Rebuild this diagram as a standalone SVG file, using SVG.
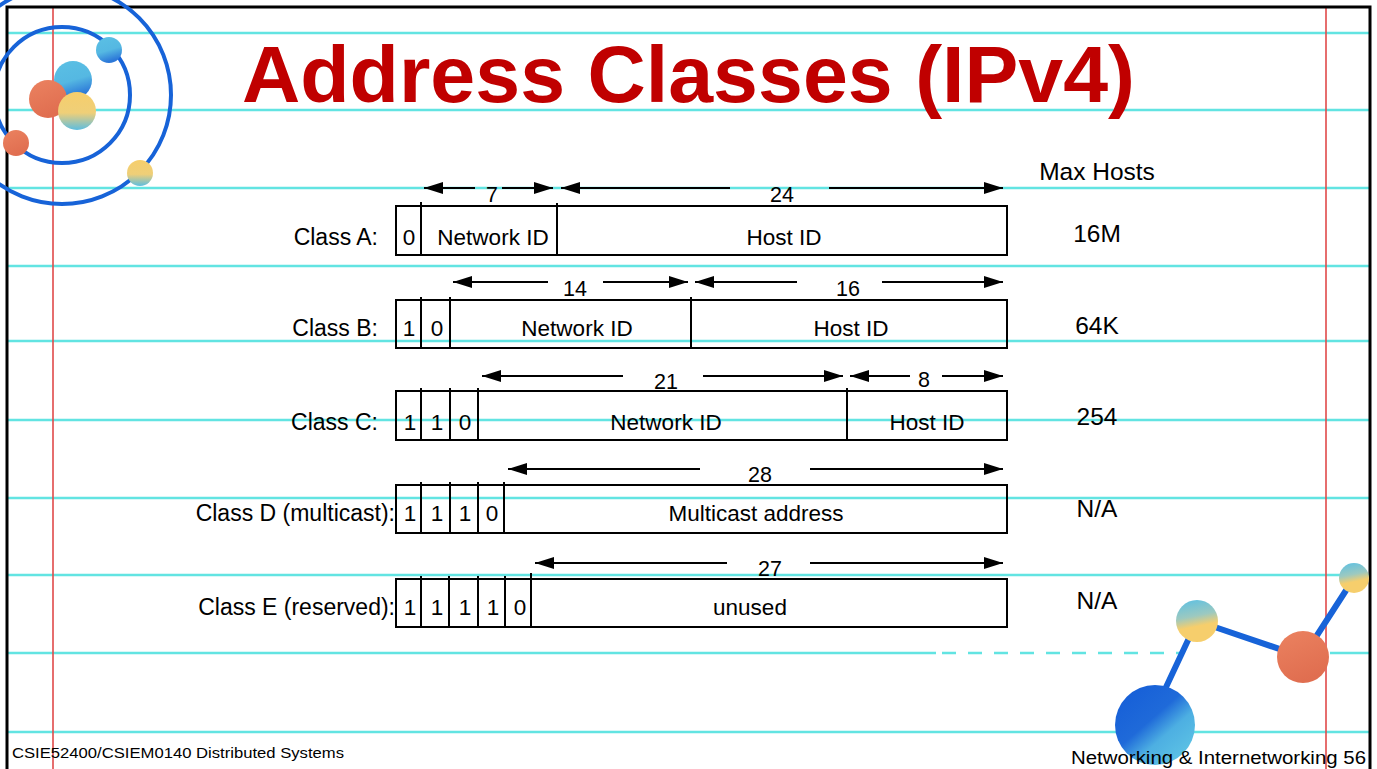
<svg xmlns="http://www.w3.org/2000/svg" width="1377" height="769" viewBox="0 0 1377 769">
  <defs>
    <style>
      .rule { stroke: #62E4E2; stroke-width: 2.6; }
      .margin { stroke: #E04A4A; stroke-width: 1.6; }
      .box { fill: none; stroke: #000; stroke-width: 2; }
      .div { stroke: #000; stroke-width: 2; }
      .arr { stroke: #000; stroke-width: 2; fill: none; }
      .lbl { font-family: "Liberation Sans", Arial, sans-serif; font-size: 22.5px; fill: #000; }
      .cls { font-size: 23px; }
      .mid { text-anchor: middle; }
      .end { text-anchor: end; }
      .num { font-family: "Liberation Sans", Arial, sans-serif; font-size: 21.5px; fill: #000; text-anchor: middle; }
      .host { font-family: "Liberation Sans", Arial, sans-serif; font-size: 24.5px; fill: #000; text-anchor: middle; }
      .orbit { fill: none; stroke: #1763D8; stroke-width: 4; }
      .link { stroke: #1763D8; stroke-width: 6; stroke-linecap: round; }
    </style>
    <marker id="head" viewBox="0 0 19 12" markerWidth="19" markerHeight="12" refX="19" refY="6" orient="auto-start-reverse" markerUnits="userSpaceOnUse">
      <path d="M0,0 L19,6 L0,12 z" fill="#000"/>
    </marker>
    <linearGradient id="gBlue" x1="0" y1="0" x2="0.3" y2="1">
      <stop offset="0" stop-color="#5BC0E4"/>
      <stop offset="0.6" stop-color="#55B8E2"/>
      <stop offset="1" stop-color="#2C78D8"/>
    </linearGradient>
    <linearGradient id="gYellowBlue" x1="0" y1="0" x2="0" y2="1">
      <stop offset="0" stop-color="#F6CE6C"/>
      <stop offset="0.55" stop-color="#EFCF78"/>
      <stop offset="1" stop-color="#5DBDE0"/>
    </linearGradient>
    <linearGradient id="gBlueYellow" x1="0" y1="0" x2="0.2" y2="1">
      <stop offset="0" stop-color="#5BC0E4"/>
      <stop offset="0.45" stop-color="#9CC9C0"/>
      <stop offset="0.7" stop-color="#F6CE6C"/>
      <stop offset="1" stop-color="#F6CE6C"/>
    </linearGradient>
    <linearGradient id="gBig" x1="0.1" y1="0.1" x2="0.8" y2="0.9">
      <stop offset="0" stop-color="#165FD8"/>
      <stop offset="0.45" stop-color="#1F6AD9"/>
      <stop offset="0.7" stop-color="#4DAFE2"/>
      <stop offset="1" stop-color="#5BC0E4"/>
    </linearGradient>
    <linearGradient id="gOrange" x1="0" y1="0" x2="0.4" y2="1">
      <stop offset="0" stop-color="#EB8260"/>
      <stop offset="1" stop-color="#E06E50"/>
    </linearGradient>
  </defs>

  <!-- page -->
  <rect x="0" y="0" width="1377" height="769" fill="#FFFFFF"/>

  <!-- ruled notebook lines -->
  <g id="ruling">
    <line class="rule" x1="8" y1="33" x2="1369" y2="33"/>
    <line class="rule" x1="8" y1="110" x2="1369" y2="110"/>
    <line class="rule" x1="8" y1="188" x2="1369" y2="188"/>
    <line class="rule" x1="8" y1="266" x2="1369" y2="266"/>
    <line class="rule" x1="8" y1="341" x2="1369" y2="341"/>
    <line class="rule" x1="8" y1="420" x2="1369" y2="420"/>
    <line class="rule" x1="8" y1="498" x2="1369" y2="498"/>
    <line class="rule" x1="8" y1="575" x2="1369" y2="575"/>
    <line class="rule" x1="8" y1="653" x2="936" y2="653"/>
    <line class="rule" x1="942" y1="653" x2="1180" y2="653" stroke-dasharray="14 12"/>
    <line class="rule" x1="1330" y1="653" x2="1369" y2="653"/>
    <line class="rule" x1="8" y1="732" x2="1369" y2="732"/>
    <line class="margin" x1="53" y1="8" x2="53" y2="769"/>
    <line class="margin" x1="1326" y1="8" x2="1326" y2="769"/>
  </g>

  <!-- frame -->
  <path d="M7,769 V7 H1370 V769" fill="none" stroke="#000" stroke-width="3"/>

  <!-- orbit decoration, top left -->
  <g id="orbit-art">
    <circle class="orbit" cx="62" cy="95" r="68"/>
    <circle class="orbit" cx="62" cy="95" r="109"/>
    <circle cx="109" cy="50" r="13" fill="url(#gBlue)"/>
    <circle cx="73" cy="80" r="19" fill="url(#gBlue)"/>
    <circle cx="48" cy="99" r="19" fill="url(#gOrange)"/>
    <circle cx="77" cy="111" r="19" fill="url(#gYellowBlue)"/>
    <circle cx="16" cy="143" r="13" fill="url(#gOrange)"/>
    <circle cx="140" cy="173" r="13" fill="url(#gYellowBlue)"/>
  </g>

  <!-- title -->
  <text id="title" x="242" y="102" font-family="'Liberation Sans', Arial, sans-serif" font-size="80" font-weight="bold" fill="#C00000" textLength="893" lengthAdjust="spacingAndGlyphs">Address Classes (IPv4)</text>

  <!-- column heading -->
  <text class="host" x="1097" y="180">Max Hosts</text>

  <!-- Class A -->
  <g id="class-a">
    <text class="lbl cls end" x="378" y="245">Class A:</text>
    <rect class="box" x="396" y="206" width="611" height="49"/>
    <line class="div" x1="421" y1="202" x2="421" y2="255"/>
    <line class="div" x1="557" y1="203" x2="557" y2="255"/>
    <text class="lbl mid" x="409" y="245">0</text>
    <text class="lbl mid" x="493" y="245">Network ID</text>
    <text class="lbl mid" x="784" y="245">Host ID</text>
    <text class="host" x="1097" y="242">16M</text>
  </g>

  <!-- Class B -->
  <g id="class-b">
    <text class="lbl cls end" x="378" y="336">Class B:</text>
    <rect class="box" x="396" y="300" width="611" height="48"/>
    <line class="div" x1="421" y1="297" x2="421" y2="348"/>
    <line class="div" x1="450" y1="297" x2="450" y2="348"/>
    <line class="div" x1="691" y1="297" x2="691" y2="348"/>
    <text class="lbl mid" x="409" y="336">1</text>
    <text class="lbl mid" x="437" y="336">0</text>
    <text class="lbl mid" x="577" y="336">Network ID</text>
    <text class="lbl mid" x="851" y="336">Host ID</text>
    <text class="host" x="1097" y="334">64K</text>
  </g>

  <!-- Class C -->
  <g id="class-c">
    <text class="lbl cls end" x="378" y="430">Class C:</text>
    <rect class="box" x="396" y="391" width="611" height="49"/>
    <line class="div" x1="421" y1="388" x2="421" y2="440"/>
    <line class="div" x1="450" y1="388" x2="450" y2="440"/>
    <line class="div" x1="478" y1="388" x2="478" y2="440"/>
    <line class="div" x1="847" y1="388" x2="847" y2="440"/>
    <text class="lbl mid" x="410" y="430">1</text>
    <text class="lbl mid" x="437" y="430">1</text>
    <text class="lbl mid" x="465" y="430">0</text>
    <text class="lbl mid" x="666" y="430">Network ID</text>
    <text class="lbl mid" x="927" y="430">Host ID</text>
    <text class="host" x="1097" y="425">254</text>
  </g>

  <!-- Class D -->
  <g id="class-d">
    <text class="lbl cls end" x="395" y="521">Class D (multicast):</text>
    <rect class="box" x="396" y="485" width="611" height="48"/>
    <line class="div" x1="421" y1="482" x2="421" y2="533"/>
    <line class="div" x1="450" y1="482" x2="450" y2="533"/>
    <line class="div" x1="478" y1="482" x2="478" y2="533"/>
    <line class="div" x1="504" y1="482" x2="504" y2="533"/>
    <text class="lbl mid" x="410" y="521">1</text>
    <text class="lbl mid" x="437" y="521">1</text>
    <text class="lbl mid" x="465" y="521">1</text>
    <text class="lbl mid" x="492" y="521">0</text>
    <text class="lbl mid" x="756" y="521">Multicast address</text>
    <text class="host" x="1097" y="517">N/A</text>
  </g>

  <!-- Class E -->
  <g id="class-e">
    <text class="lbl cls end" x="395" y="615">Class E (reserved):</text>
    <rect class="box" x="396" y="579" width="611" height="48"/>
    <line class="div" x1="421" y1="576" x2="421" y2="627"/>
    <line class="div" x1="449" y1="576" x2="449" y2="627"/>
    <line class="div" x1="478" y1="576" x2="478" y2="627"/>
    <line class="div" x1="505" y1="576" x2="505" y2="627"/>
    <line class="div" x1="531" y1="573" x2="531" y2="627"/>
    <text class="lbl mid" x="410" y="615">1</text>
    <text class="lbl mid" x="437" y="615">1</text>
    <text class="lbl mid" x="465" y="615">1</text>
    <text class="lbl mid" x="493" y="615">1</text>
    <text class="lbl mid" x="520" y="615">0</text>
    <text class="lbl mid" x="750" y="615">unused</text>
    <text class="host" x="1097" y="609">N/A</text>
  </g>

  <!-- field-width dimension arrows -->
  <g id="connectors">
    <path class="arr" d="M424,188 H475" marker-start="url(#head)"/>
    <path class="arr" d="M502,188 H553" marker-end="url(#head)"/>
    <path class="arr" d="M561,188 H730" marker-start="url(#head)"/>
    <path class="arr" d="M829,188 H1003" marker-end="url(#head)"/>

    <path class="arr" d="M453,282 H548" marker-start="url(#head)"/>
    <path class="arr" d="M603,282 H688" marker-end="url(#head)"/>
    <path class="arr" d="M695,282 H797" marker-start="url(#head)"/>
    <path class="arr" d="M882,282 H1003" marker-end="url(#head)"/>

    <path class="arr" d="M482,376 H623" marker-start="url(#head)"/>
    <path class="arr" d="M703,376 H843" marker-end="url(#head)"/>
    <path class="arr" d="M850,376 H910" marker-start="url(#head)"/>
    <path class="arr" d="M942,376 H1003" marker-end="url(#head)"/>

    <path class="arr" d="M508,469 H700" marker-start="url(#head)"/>
    <path class="arr" d="M810,469 H1003" marker-end="url(#head)"/>

    <path class="arr" d="M535,563 H727" marker-start="url(#head)"/>
    <path class="arr" d="M810,563 H1003" marker-end="url(#head)"/>
  </g>

  <!-- width labels -->
  <g id="widths">
    <text class="num" x="492" y="202">7</text>
    <text class="num" x="782" y="202">24</text>
    <text class="num" x="575" y="296">14</text>
    <text class="num" x="848" y="296">16</text>
    <text class="num" x="666" y="389">21</text>
    <text class="num" x="924" y="387">8</text>
    <text class="num" x="760" y="482">28</text>
    <text class="num" x="770" y="576">27</text>
  </g>

  <!-- molecule decoration, bottom right -->
  <g id="molecule-art">
    <line class="link" x1="1160" y1="700" x2="1197" y2="621"/>
    <line class="link" x1="1197" y1="621" x2="1303" y2="657"/>
    <line class="link" x1="1303" y1="657" x2="1354" y2="578"/>
    <circle cx="1155" cy="725" r="40" fill="url(#gBig)"/>
    <circle cx="1197" cy="621" r="21" fill="url(#gBlueYellow)"/>
    <circle cx="1303" cy="657" r="26" fill="url(#gOrange)"/>
    <circle cx="1354" cy="578" r="15" fill="url(#gBlueYellow)"/>
  </g>

  <!-- footer -->
  <text id="footer-left" x="12" y="758" font-family="'Liberation Sans', Arial, sans-serif" font-size="14" fill="#000" textLength="332" lengthAdjust="spacingAndGlyphs">CSIE52400/CSIEM0140 Distributed Systems</text>
  <text id="footer-right" x="1071" y="764" font-family="'Liberation Sans', Arial, sans-serif" font-size="18" fill="#000" textLength="295" lengthAdjust="spacingAndGlyphs">Networking &amp; Internetworking 56</text>
</svg>
